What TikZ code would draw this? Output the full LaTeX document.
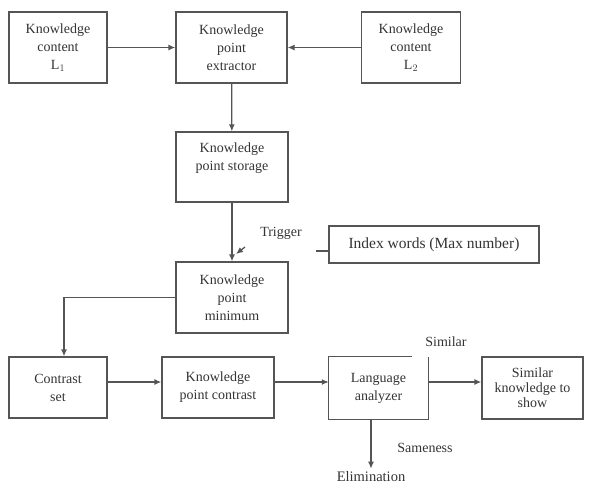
\documentclass[tikz,border=0pt]{standalone}
\usepackage{fontspec}
\setmainfont{Liberation Serif}
\usetikzlibrary{arrows.meta}
\definecolor{ln}{HTML}{555555}
\definecolor{tx}{HTML}{333333}
\begin{document}
\begin{tikzpicture}[x=1pt,y=-1pt,
  box/.style={draw=ln,line width=1.3pt,align=center,inner sep=0pt,text=tx,
    font=\fontsize{14}{18}\selectfont},
  nobox/.style={align=center,inner sep=0pt,text=tx,font=\fontsize{14}{18}\selectfont},
  lbl/.style={inner sep=0pt,text=tx,font=\fontsize{14}{16}\selectfont},
  conn/.style={draw=ln,line width=1.3pt},
  arr/.style={conn,-{Latex[length=7pt,width=6pt]}}]
\useasboundingbox (0,0) rectangle (591,488);
\node[box,minimum width=98pt,minimum height=71pt] (l1) at (58,47.5) {Knowledge\\content\\L$_1$};
\node[box,minimum width=111pt,minimum height=71pt] (kpe) at (231.5,47.5) {Knowledge\\point\\extractor};
\node[box,minimum width=99pt,minimum height=71pt] (l2) at (411,47.5) {Knowledge\\content\\L$_2$};
\node[box,minimum width=112pt,minimum height=70pt] (sto) at (232,167) {Knowledge\\point storage\\[2pt]~};
\node[box,minimum width=112pt,minimum height=71pt] (min) at (232,297.5) {Knowledge\\point\\minimum};
\node[box,minimum width=210pt,minimum height=37pt,font=\fontsize{15.5}{18}\selectfont] (idx) at (434,244.5) {Index words (Max number)};
\node[box,minimum width=98pt,minimum height=61pt] (cs) at (58,387.5) {Contrast\\set};
\node[box,minimum width=112pt,minimum height=61pt] (kpc) at (218,387.5) {Knowledge\\point contrast};
\node[nobox,minimum width=99pt,minimum height=62pt] (la) at (378.5,388) {Language\\analyzer};
\node[box,minimum width=101pt,minimum height=62pt,font=\fontsize{14}{15}\selectfont] (sim) at (532.5,388) {Similar\\knowledge to\\show};
\node[lbl,font=\fontsize{14.5}{16}\selectfont] (elim) at (371,477) {Elimination};
\node[lbl] (trig) at (281,233) {Trigger};
\node[lbl] (simlbl) at (446,342) {Similar};
\node[lbl] (same) at (425,448) {Sameness};
\draw[conn] ([xshift=-16pt]la.north east) -- (la.north west) -- (la.south west) -- (la.south east) -- (la.north east);
\draw[arr] (l1) -- (kpe);
\draw[arr] (l2) -- (kpe);
\draw[arr] (kpe) -- (sto);
\draw[arr] (sto) -- (min);
\draw[arr] (min.west) -| ([xshift=6pt]cs.north);
\draw[arr] ([yshift=5.5pt]cs.east) -- ([yshift=5.5pt]kpc.west);
\draw[arr] ([yshift=5.5pt]kpc.east) -- ([yshift=6pt]la.west);
\draw[arr] ([yshift=6pt]la.east) -- ([yshift=6pt]sim.west);
\draw[arr] ([xshift=-7.5pt]la.south) -- ([yshift=3pt]elim.north);
\coordinate (idxend) at (316,251);
\draw[conn] ([yshift=-6.5pt]idx.west) -- (idxend);
\coordinate (tga) at (245,247);
\coordinate (tgb) at (236,254);
\draw[arr] (tga) -- (tgb);
\end{tikzpicture}
\end{document}
